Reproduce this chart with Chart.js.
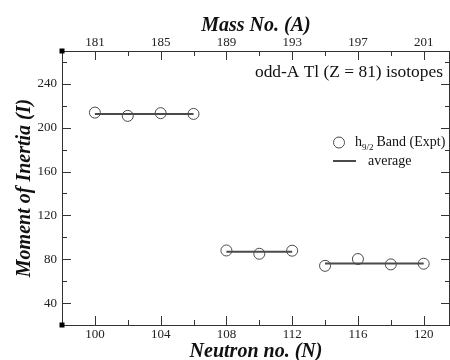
<!DOCTYPE html>
<html>
<head>
<meta charset="utf-8">
<script src="https://cdn.jsdelivr.net/npm/chart.js@4"></script>
<style>
  body { margin: 0; background: #fff; }
  #wrap { width: 450px; height: 360px; }
</style>
</head>
<body>
<div id="wrap"><canvas id="myChart" width="450" height="360"></canvas></div>
<script>
// data
const neutronN = [100, 102, 104, 106, 108, 110, 112, 114, 116, 118, 120];
const momentI = [213.8, 210.8, 213.3, 212.6, 88.0, 85.0, 87.8, 74.0, 80.2, 75.3, 75.9];

// average lines (one per group)
const avgStartN = [100, 108, 114];
const avgEndN = [106, 112, 120];
const avgI = [212.6, 86.8, 76.2];

// tick labels
const bottomTicks = [100, 104, 108, 112, 116, 120];
const bottomMinor = [102, 106, 110, 114, 118];
const topTicks = [181, 185, 189, 193, 197, 201];
const topMinor = [183, 187, 191, 195, 199];
const yTicks = [40, 80, 120, 160, 200, 240];
const yMinor = [60, 100, 140, 180, 220, 260];

const Z = 81; // A = N + Z
const serif = 'Liberation Serif';
const axisColor = '#333';

const datasets = [{
    label: 'h9/2 Band (Expt)',
    data: neutronN.map((n, i) => ({ x: n, y: momentI[i] })),
    showLine: false,
    pointStyle: 'circle',
    pointRadius: 5.5,
    pointBorderWidth: 1,
    pointBorderColor: '#4a4a4a',
    pointBackgroundColor: 'rgba(0,0,0,0)'
}];

avgI.forEach((v, i) => {
    datasets.push({
        label: 'average',
        data: [{ x: avgStartN[i], y: v }, { x: avgEndN[i], y: v }],
        showLine: true,
        borderColor: '#4a4a4a',
        borderWidth: 2,
        pointRadius: 0
    });
});

// inward tick marks, right border, corner squares, legend and note
const decorPlugin = {
    id: 'decor',
    afterDraw(chart) {
        const c = chart.ctx;
        const a = chart.chartArea;
        const sx = chart.scales.x, sx2 = chart.scales.x2, sy = chart.scales.y;
        c.save();
        c.strokeStyle = axisColor;
        c.lineWidth = 1;

        // right border
        c.beginPath();
        c.moveTo(a.right - 0.5, a.top);
        c.lineTo(a.right - 0.5, a.bottom);
        c.stroke();

        const tick = (x1, y1, x2, y2) => {
            c.beginPath();
            c.moveTo(x1, y1);
            c.lineTo(x2, y2);
            c.stroke();
        };
        const bx = v => Math.round(sx.getPixelForValue(v)) + 0.5;
        const tx = v => Math.round(sx2.getPixelForValue(v)) + 0.5;
        const ly = v => Math.round(sy.getPixelForValue(v)) + 0.5;

        bottomTicks.forEach(v => tick(bx(v), a.bottom, bx(v), a.bottom - 9));
        bottomMinor.forEach(v => tick(bx(v), a.bottom, bx(v), a.bottom - 5));
        topTicks.forEach(v => tick(tx(v), a.top, tx(v), a.top + 9));
        topMinor.forEach(v => tick(tx(v), a.top, tx(v), a.top + 5));
        yTicks.forEach(v => {
            tick(a.left, ly(v), a.left + 9, ly(v));
            tick(a.right, ly(v), a.right - 9, ly(v));
        });
        yMinor.forEach(v => {
            tick(a.left, ly(v), a.left + 5, ly(v));
            tick(a.right, ly(v), a.right - 5, ly(v));
        });

        // corner squares
        c.fillStyle = '#000';
        c.fillRect(a.left - 2.5, a.top - 2.5, 5, 5);
        c.fillRect(a.left - 2.5, a.bottom - 2.5, 5, 5);

        // note
        c.fillStyle = '#111';
        c.textBaseline = 'middle';
        c.textAlign = 'right';
        c.font = '17.4px "' + serif + '"';
        c.fillText('odd-A Tl (Z = 81) isotopes', 443, 72);

        // legend
        c.strokeStyle = '#4a4a4a';
        c.beginPath();
        c.arc(339, 142.5, 5.5, 0, Math.PI * 2);
        c.stroke();
        c.lineWidth = 2;
        tick(333, 161, 356, 161);

        c.textAlign = 'left';
        c.textBaseline = 'alphabetic';
        c.font = '14px "' + serif + '"';
        c.fillText('h', 355, 146);
        let w = c.measureText('h').width;
        c.font = '9px "' + serif + '"';
        c.fillText('9/2', 355 + w, 150);
        w += c.measureText('9/2').width + 3;
        c.font = '14px "' + serif + '"';
        c.fillText('Band (Expt)', 355 + w, 146);
        c.fillText('average', 368, 165);
        c.restore();
    }
};

const tickFont = { family: serif, size: 13 };
const titleFont = { family: serif, size: 20, weight: 'bold', style: 'italic' };
const noPad = s => { s.paddingLeft = 0; s.paddingRight = 0; s.paddingTop = 0; s.paddingBottom = 0; };

const ctx = document.getElementById('myChart').getContext('2d');
const myChart = new Chart(ctx, {
    type: 'scatter',
    data: { datasets: datasets },
    options: {
        responsive: false,
        animation: false,
        layout: { padding: 0, autoPadding: false },
        plugins: {
            legend: { display: false },
            tooltip: { enabled: false }
        },
        scales: {
            x: {
                type: 'linear',
                position: 'bottom',
                min: 98,
                max: 121.6,
                grid: { display: false, drawTicks: false },
                border: { display: true, color: axisColor },
                ticks: { font: tickFont, color: '#222', padding: 2, autoSkip: false, maxRotation: 0 },
                afterBuildTicks: s => { s.ticks = bottomTicks.map(v => ({ value: v })); },
                afterFit: s => { s.height = 35; noPad(s); },
                title: {
                    display: true,
                    text: 'Neutron no. (N)',
                    color: '#111',
                    font: Object.assign({}, titleFont, { lineHeight: 0.8 }),
                    padding: { top: 0, bottom: 0 }
                }
            },
            x2: {
                type: 'linear',
                position: 'top',
                min: 98 + Z,
                max: 121.6 + Z,
                grid: { display: false, drawTicks: false },
                border: { display: true, color: axisColor },
                ticks: { font: tickFont, color: '#222', padding: 1, autoSkip: false, maxRotation: 0 },
                afterBuildTicks: s => { s.ticks = topTicks.map(v => ({ value: v })); },
                afterFit: s => { s.height = 51; noPad(s); },
                title: {
                    display: true,
                    text: 'Mass No. (A)',
                    color: '#111',
                    font: titleFont,
                    padding: { top: 14, bottom: 0 }
                }
            },
            y: {
                type: 'linear',
                position: 'left',
                min: 20,
                max: 270,
                grid: { display: false, drawTicks: false },
                border: { display: true, color: axisColor },
                ticks: { font: tickFont, color: '#222', padding: 5, autoSkip: false },
                afterBuildTicks: s => { s.ticks = yTicks.map(v => ({ value: v })); },
                afterFit: s => { s.width = 62; noPad(s); },
                title: {
                    display: true,
                    text: 'Moment of Inertia (I)',
                    color: '#111',
                    font: titleFont,
                    padding: { top: 13, bottom: 0 }
                }
            }
        }
    },
    plugins: [decorPlugin]
});
</script>
</body>
</html>
